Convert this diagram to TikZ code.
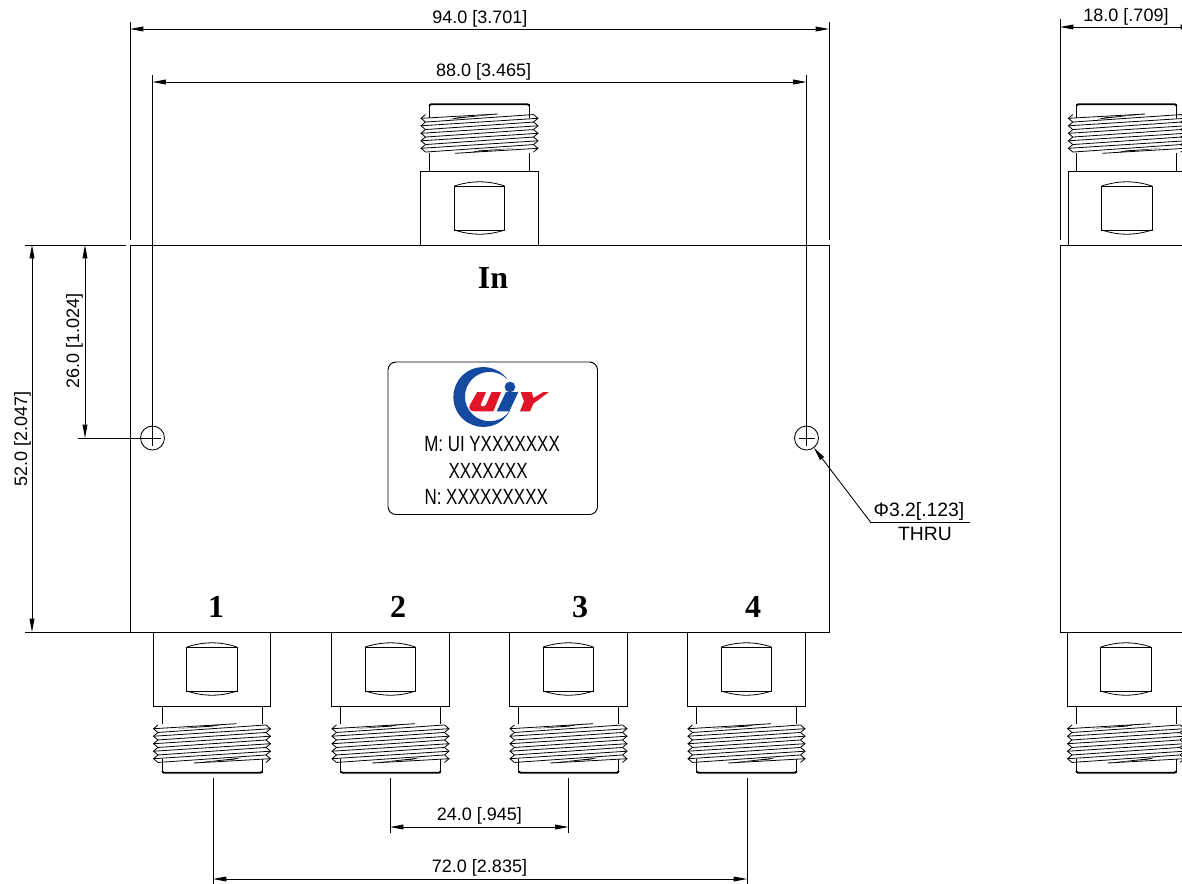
\documentclass[tikz,border=0pt]{standalone}
\usepackage{fontspec}
\setmainfont{Liberation Sans}
\newfontfamily\portfont{Liberation Serif}
\newfontfamily\platefont[FakeStretch=0.77]{Liberation Sans}
\usetikzlibrary{arrows.meta,positioning}
\definecolor{logoblue}{RGB}{20,75,160}
\definecolor{logored}{RGB}{225,20,40}
\tikzstyle{outline} = [draw=black, line width=0.72pt]
\tikzstyle{extline} = [draw=black, line width=0.65pt]
\tikzstyle{dimline} = [draw=black, line width=0.65pt, {Triangle[length=10pt,width=3.6pt]}-{Triangle[length=10pt,width=3.6pt]}]
\tikzstyle{leader} = [draw=black, line width=0.65pt, -{Triangle[length=10pt,width=3.6pt]}]
\tikzstyle{dimtext} = [inner sep=0pt, font=\fontsize{13.5}{15}\selectfont]
\tikzstyle{calltext} = [inner sep=0pt, font=\fontsize{14.5}{16}\selectfont]
\tikzstyle{porttext} = [inner sep=0pt, font=\portfont\bfseries\fontsize{24}{26}\selectfont]
\tikzstyle{platetext} = [inner sep=0pt, anchor=west, font=\platefont\fontsize{16.5}{18}\selectfont]
\tikzstyle{holemark} = [circle, draw=black, line width=0.65pt, minimum size=18pt, inner sep=0pt]
\tikzstyle{threadline} = [draw=black, line width=0.6pt]
\tikzset{
  nport/.pic={
    \draw[outline] (-58.8,0) rectangle (58.6,-74);
    \draw[outline] (-25,-59) rectangle (25.2,-15);
    \draw[line width=0.6pt] (-25,-59) .. controls (-8,-64.6) and (8,-64.6) .. (25.2,-59);
    \draw[line width=0.6pt] (-25,-15) .. controls (-8,-9.4) and (8,-9.4) .. (25.2,-15);
    % neck and cap
    \draw[outline] (-50,-74) -- (-50,-92);
    \draw[outline] (49.6,-74) -- (49.6,-92);
    \draw[outline] (-50,-127) -- (-50,-140.7) -- (49.6,-140.7) -- (49.6,-127);
    \draw[line width=1.3pt, rounded corners=1pt] (-50,-139) -- (-50,-140.7) -- (49.6,-140.7) -- (49.6,-139);
    % thread
    \foreach \i in {0,...,4} {
      \pgfmathsetmacro{\tipy}{-126.7+7.5*\i}
      \draw[threadline] (-54,\tipy-3.75) -- (-58.5,\tipy) -- (-54,\tipy+3.75);
      \draw[threadline] (54,\tipy-3.75) -- (58.5,\tipy) -- (54,\tipy+3.75);
      \draw[threadline] (-54,\tipy+3.75) -- (54,\tipy-3.75);
    }
    \foreach \i in {1,...,4} {
      \pgfmathsetmacro{\tipy}{-126.7+7.5*\i}
      \draw[threadline] (-58.5,\tipy) -- (58.5,\tipy-7.5);
    }
    \draw[threadline] (-58.5,-126.7) -- (18.2,-131);
    \fill (-29.5,-125.6) -- (18.2,-131) -- (-22,-127.6) -- cycle;
    \draw[threadline] (-24.5,-91.7) -- (58.5,-96.7);
    \fill (-10,-92.6) -- (34,-96.6) -- (0,-94.6) -- cycle;
  }
}
\begin{document}
\begin{tikzpicture}[x=0.75pt, y=-0.75pt]
  \useasboundingbox (0,0) rectangle (1182,883);
  \clip (0,0) rectangle (1182,883);
  % housing front and side
  \draw[outline] (130,245) rectangle (829,632);
  \draw[outline] (1194,245) -- (1060,245) -- (1060,632) -- (1194,632);
  % ports
  \pic at (479.5,245) {nport};
  \pic at (1126.8,245) {nport};
  \foreach \px in {212,390.5,568.5,746.5,1126}
    \pic[rotate=180] at (\px,632) {nport};
  % labels on the housing
  \node[porttext] (labIn) at (493,278) {In};
  \node[porttext] (labA) at (216,607) {1};
  \node[porttext] (labB) at (398,607) {2};
  \node[porttext] (labC) at (580,607) {3};
  \node[porttext] (labD) at (753,607) {4};
  % name plate
  \draw[outline, rounded corners=6pt] (388,362) rectangle (597.5,514.5);
  \begin{scope}[shift={(450,362)}, scale=0.3333]
    \fill[logoblue] (100,105) ++(-36:90) arc[start angle=-36, end angle=-332, radius=90]
      -- (181,144) arc[start angle=33, end angle=316, radius=74] -- cycle;
    \fill[logoblue] (180,75) circle (16);
    \fill[logoblue] (168,90) -- (205,90) -- (178,148) -- (140,148) -- cycle;
    \fill[logored] (82,90) -- (108,90) -- (92,128) .. controls (90,134) and (104,136) .. (108,128)
      -- (125,90) -- (153,90) -- (130,148) -- (75,148) .. controls (58,148) and (55,138) .. (60,128) -- cycle;
    \fill[logored] (212,90) -- (245,90) -- (250,108) -- (280,90) -- (297,90) -- (250,125) -- (240,148)
      -- (210,148) -- (222,118) -- cycle;
  \end{scope}
  \node[platetext] (plateM) at (424,444.5) {M: UI YXXXXXXX};
  \node[platetext] (plateX) at (448.3,470.5) {XXXXXXX};
  \node[platetext] (plateN) at (424.3,496.5) {N: XXXXXXXXX};
  % mounting holes
  \node[holemark] (holeL) at (152.5,438) {};
  \node[holemark] (holeR) at (806.5,438) {};
  \foreach \hole in {holeL,holeR}
    \draw[line width=0.5pt] (\hole)+(-8,0) -- +(8,0) (\hole)+(0,-8) -- +(0,8);
  % dimension end points
  \coordinate (wideL) at (130,29);
  \coordinate (wideR) at (829,29);
  \coordinate (pitchL) at (152.5,82);
  \coordinate (pitchR) at (806.5,82);
  \coordinate (sideL) at (1060,27);
  \coordinate (sideR) at (1194,27);
  \coordinate (tallT) at (32,245);
  \coordinate (tallB) at (32,632);
  \coordinate (halfT) at (85,245);
  \coordinate (halfB) at (85,438);
  \coordinate (nearL) at (390,827);
  \coordinate (nearR) at (568.5,827);
  \coordinate (farL) at (213,879);
  \coordinate (farR) at (747,879);
  % extension lines
  \draw[extline] (130,22) -- (130,240);
  \draw[extline] (829,22) -- (829,240);
  \draw[extline] (152.5,75) -- (152.5,446);
  \draw[extline] (806.5,75) -- (806.5,446);
  \draw[extline] (1060,19) -- (1060,240);
  \draw[extline] (25,245) -- (126,245);
  \draw[extline] (25,632) -- (130,632);
  \draw[extline] (78,438) -- (160.5,438);
  \draw[extline] (213,778) -- (213,884);
  \draw[extline] (747,778) -- (747,884);
  \draw[extline] (390,778) -- (390,833);
  \draw[extline] (568.5,778) -- (568.5,833);
  % dimensions
  \draw[dimline] (wideL) -- (wideR);
  \draw[dimline] (pitchL) -- (pitchR);
  \draw[dimline] (sideL) -- (sideR);
  \draw[dimline] (tallT) -- (tallB);
  \draw[dimline] (halfT) -- (halfB);
  \draw[dimline] (nearL) -- (nearR);
  \draw[dimline] (farL) -- (farR);
  \node[dimtext] (dimWide) at (479.8,18.5) {94.0 [3.701]};
  \node[dimtext] (dimPitch) at (483.7,71.5) {88.0 [3.465]};
  \node[dimtext] (dimSide) at (1126,17) {18.0 [.709]};
  \node[dimtext, rotate=90] (dimTall) at (22.5,439) {52.0 [2.047]};
  \node[dimtext, rotate=90] (dimHalf) at (74.5,341) {26.0 [1.024]};
  \node[dimtext] (dimNear) at (479.3,815.5) {24.0 [.945]};
  \node[dimtext] (dimFar) at (479.5,867.5) {72.0 [2.835]};
  % hole callout
  \coordinate (leadA) at (871,522.7);
  \coordinate (leadB) at (970,522.7);
  \draw[leader] (leadA) -- (holeR);
  \draw[extline] (leadA) -- (leadB);
  \node[calltext] (holeSize) at (919,511.5) {Φ3.2[.123]};
  \node[calltext] (holeThru) at (925,533.5) {THRU};
\end{tikzpicture}
\end{document}
